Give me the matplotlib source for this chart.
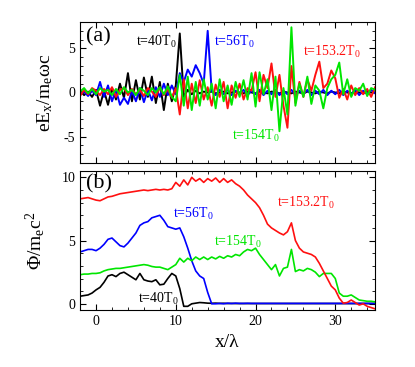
import numpy as np
import matplotlib
matplotlib.use("Agg")
import matplotlib.pyplot as plt
from matplotlib.ticker import MultipleLocator

plt.rcParams["font.family"] = "Liberation Serif"
plt.rcParams["mathtext.fontset"] = "custom"
plt.rcParams["mathtext.rm"] = "Liberation Serif"
plt.rcParams["mathtext.it"] = "Liberation Serif:italic"
plt.rcParams["axes.unicode_minus"] = False

# sample positions x/lambda, every 0.5 from -2 to 35
x = np.arange(-2.0, 35.01, 0.5)

# (a) longitudinal field eEx/(m_e w c)
ex_40 = [0.2, -0.3, 0.1, -0.5, 0.3, -1.5, 0.2, -1.4, 0.5, -0.8,
         1.0, -0.6, 2.2, -1.0, 1.4, -0.8, 1.7, -0.5, 1.8, -1.2,
         1.2, -2.0, 1.0, -1.0, 0.8, 6.7, -0.5, 0.3, -0.2, 0.2,
         -0.1, 0.1, 0.0, 0.1, -0.1, 0.0, 0.1, -0.1, 0.0, 0.1,
         0.0, -0.1, 0.1, 0.0, -0.1, 0.1, 0.0, -0.1, 0.1, 0.0,
         -0.1, 0.1, 0.0, -0.1, 0.1, 0.0, -0.1, 0.1, 0.0, -0.1,
         0.1, 0.0, -0.1, 0.1, 0.0, -0.1, 0.1, 0.0, -0.1, 0.1,
         0.0, -0.1, 0.1, 0.0, 0.0]
ex_56 = [-0.2, 0.1, -0.4, 0.2, -0.3, 1.2, -0.5, 0.8, -1.0, 0.3,
         -1.4, -0.6, -1.3, 0.2, -1.0, 0.5, -1.1, 0.3, -0.9, 0.6,
         -0.5, 1.0, -0.3, 0.8, -0.2, 2.2, 1.2, 2.6, 1.8, 3.1,
         2.2, 1.0, 7.0, 0.2, -0.3, 0.3, -0.2, 0.3, -0.3, 0.2,
         -0.2, 0.3, -0.3, 0.2, -0.2, 0.3, -0.3, 0.2, -0.2, 0.3,
         -0.3, 0.2, -0.2, 0.3, -0.3, 0.2, -0.2, 0.3, -0.3, 0.2,
         -0.2, 0.3, -0.3, 0.2, -0.2, 0.3, -0.3, 0.2, -0.2, 0.3,
         -0.3, 0.2, -0.2, 0.3, -0.1]
ex_1532 = [-0.4, 0.3, -0.2, 0.5, 0.2, -0.3, 0.4, -0.2, 0.6, -0.5,
           0.3, 0.5, -0.3, 0.4, -0.2, 0.3, -0.4, 0.5, 0.1, -0.5,
           0.6, -0.3, 0.4, -0.6, 0.5, -2.5, 1.5, -1.8, 1.0, -1.2,
           1.4, -0.8, 0.6, -1.5, 0.9, -0.5, 1.2, -1.8, 0.8, -0.6,
           1.0, -0.8, 0.5, 0.2, 2.3, -1.0, 2.0, 0.5, 3.3, -0.5,
           2.0, -1.5, -4.0, 3.0, -1.2, 1.2, -0.5, 1.5, 0.2, 2.0,
           3.5, 0.5, 1.0, 2.5, 1.6, -0.6, 0.4, -0.8, 0.8, -0.3,
           0.5, -0.2, 0.4, -0.5, 0.6]
ex_154 = [0.1, 0.5, -0.1, 0.4, -0.2, 0.5, 0.1, 0.3, -0.3, 0.4,
          -0.2, 0.6, 0.0, 0.3, -0.3, 0.5, 0.2, -0.3, 0.5, 0.0,
          0.6, -0.2, 0.7, -0.5, -1.0, 2.0, -1.5, 1.8, -2.0, 1.2,
          -1.5, 1.5, -0.8, 1.0, -1.8, 1.5, -1.0, 0.8, -1.4, 1.2,
          -0.5, 1.4, -0.8, 2.2, -1.6, 2.3, -0.2, 1.5, -2.0, 1.8,
          -4.4, 0.5, -2.5, 7.4, -1.5, 1.0, -0.5, 1.8, -1.3, 0.8,
          0.2, -1.8, 0.5, 1.5, 2.0, 3.4, -0.2, 1.5, -0.5, 0.5,
          0.2, 1.0, -0.4, 0.5, 0.3]

# (b) potential Phi/(m_e c^2)
phi_40 = [0.6, 0.65, 0.7, 0.85, 1.1, 1.3, 1.7, 2.2, 2.3, 2.15,
          2.4, 2.5, 2.3, 2.1, 1.9, 2.4, 1.9, 1.8, 1.75, 1.9,
          1.5, 1.55, 2.0, 2.4, 2.2, 1.2, -0.2, -0.2, 0.0, 0.05,
          0.1, 0.08, 0.05, 0.04, 0.05, 0.03, 0.04, 0.02, 0.03, 0.02,
          0.02, 0.02, 0.02, 0.02, 0.02, 0.02, 0.02, 0.02, 0.02, 0.02,
          0.02, 0.02, 0.02, 0.02, 0.02, 0.02, 0.02, 0.02, 0.02, 0.02,
          0.02, 0.02, 0.02, 0.02, 0.02, 0.02, 0.02, 0.02, 0.02, 0.02,
          0.02, 0.02, 0.02, 0.02, 0.02]
phi_56 = [4.1, 4.2, 4.3, 4.3, 4.2, 4.4, 4.7, 5.1, 5.2, 4.9,
          4.6, 4.5, 4.8, 5.2, 5.6, 6.2, 6.4, 6.5, 6.8, 6.9,
          7.0, 6.6, 6.1, 6.0, 5.9, 6.0, 5.3, 4.4, 3.4, 2.6,
          2.2, 2.0, 0.9, 0.0, 0.0, 0.03, 0.0, 0.05, 0.02, 0.05,
          0.03, 0.03, 0.04, 0.03, 0.03, 0.03, 0.03, 0.03, 0.03, 0.03,
          0.03, 0.03, 0.03, 0.03, 0.03, 0.03, 0.03, 0.03, 0.03, 0.03,
          0.03, 0.03, 0.03, 0.03, 0.03, 0.03, 0.03, 0.03, 0.03, 0.03,
          0.03, 0.03, 0.03, 0.03, 0.03]
phi_1532 = [8.3, 8.35, 8.4, 8.3, 8.2, 8.15, 8.3, 8.45, 8.5, 8.6,
            8.7, 8.75, 8.8, 8.85, 8.9, 8.95, 9.0, 8.95, 9.0, 9.05,
            9.0, 9.05, 9.0, 9.1, 9.6, 9.3, 9.8, 9.4, 10.0, 9.7,
            9.9, 9.6, 9.9, 9.7, 9.95, 9.6, 9.9, 9.6, 9.8, 9.5,
            9.3, 9.0, 8.6, 8.3, 8.0, 7.6, 7.0, 6.3, 6.0, 5.8,
            5.6, 5.45, 5.7, 6.4, 5.0, 4.4, 4.1, 4.0, 3.9, 3.7,
            3.2, 2.6, 2.0, 1.4, 1.1, 0.45, 0.05, 0.1, 0.3, 0.1,
            -0.1, 0.0, -0.2, -0.3, -0.4]
phi_154 = [2.3, 2.35, 2.35, 2.4, 2.4, 2.45, 2.6, 2.7, 2.75, 2.8,
           2.8, 2.85, 2.9, 2.95, 3.0, 3.05, 3.1, 3.05, 2.95, 2.9,
           2.9, 2.8, 2.7, 2.9, 3.1, 3.6, 3.3, 3.6, 3.4, 3.7,
           3.5, 3.7, 3.5, 3.7, 3.55, 3.75, 3.6, 3.8, 3.7, 3.9,
           3.8, 4.1, 4.3, 4.2, 4.4, 3.9, 3.5, 3.1, 2.7, 3.1,
           2.2, 2.8, 2.9, 4.3, 2.55, 2.7, 2.6, 2.8, 2.7, 2.5,
           2.15, 2.4, 2.4, 2.4, 2.0, 0.85, 0.6, 0.6, 0.7, 0.5,
           0.3, 0.25, 0.2, 0.2, 0.15]

c_40, c_56, c_1532, c_154 = "black", "#0000ff", "#ff1010", "#00e600"

fig = plt.figure(figsize=(4.15, 3.67), dpi=100)
ax1 = fig.add_axes([0.193, 0.556, 0.711, 0.384])
ax2 = fig.add_axes([0.193, 0.155, 0.711, 0.379])

lw = 1.4
ax1.plot(x, ex_40, color=c_40, lw=lw)
ax1.plot(x, ex_56, color=c_56, lw=lw)
ax1.plot(x, ex_1532, color=c_1532, lw=lw)
ax1.plot(x, ex_154, color=c_154, lw=lw)

ax2.plot(x, phi_40, color=c_40, lw=1.2)
ax2.plot(x, phi_56, color=c_56, lw=1.2)
ax2.plot(x, phi_154, color=c_154, lw=1.2)
ax2.plot(x, phi_1532, color=c_1532, lw=1.2)

for ax in (ax1, ax2):
    ax.set_xlim(-2, 35)
    ax.xaxis.set_major_locator(MultipleLocator(10))
    ax.xaxis.set_minor_locator(MultipleLocator(2))
    ax.yaxis.set_minor_locator(MultipleLocator(1))
    ax.tick_params(which="both", direction="in", top=True, right=True, labelsize=10)
    ax.tick_params(which="major", length=4, width=0.8)
    ax.tick_params(which="minor", length=2, width=0.6)
    for s in ax.spines.values():
        s.set_linewidth(0.8)

ax1.set_ylim(-8, 8)
ax1.yaxis.set_major_locator(MultipleLocator(5))
ax1.tick_params(labelbottom=False)
ax2.set_ylim(-0.5, 10.5)
ax2.yaxis.set_major_locator(MultipleLocator(5))

ax1.set_ylabel(r"eE$_\mathrm{x}$/m$_\mathrm{e}$ωc", fontsize=14, labelpad=6)
ax2.set_ylabel(r"Φ/m$_\mathrm{e}$c$^2$", fontsize=14, labelpad=10)
ax2.set_xlabel("x/λ", fontsize=14, labelpad=4)

fs = 10
ax1.text(0.02, 0.96, "(a)", transform=ax1.transAxes, fontsize=16, va="top")
ax1.text(5.0, 5.3, r"t=40T$_0$", color=c_40, fontsize=fs)
ax1.text(14.8, 5.3, r"t=56T$_0$", color=c_56, fontsize=fs)
ax1.text(25.9, 4.2, r"t=153.2T$_0$", color=c_1532, fontsize=fs)
ax1.text(17.1, -5.4, r"t=154T$_0$", color=c_154, fontsize=fs)

ax2.text(0.02, 0.98, "(b)", transform=ax2.transAxes, fontsize=16, va="top")
ax2.text(5.2, 0.1, r"t=40T$_0$", color=c_40, fontsize=fs)
ax2.text(9.6, 6.8, r"t=56T$_0$", color=c_56, fontsize=fs)
ax2.text(22.7, 7.7, r"t=153.2T$_0$", color=c_1532, fontsize=fs)
ax2.text(14.8, 4.6, r"t=154T$_0$", color=c_154, fontsize=fs)

fig.savefig("out.png", dpi=100)
